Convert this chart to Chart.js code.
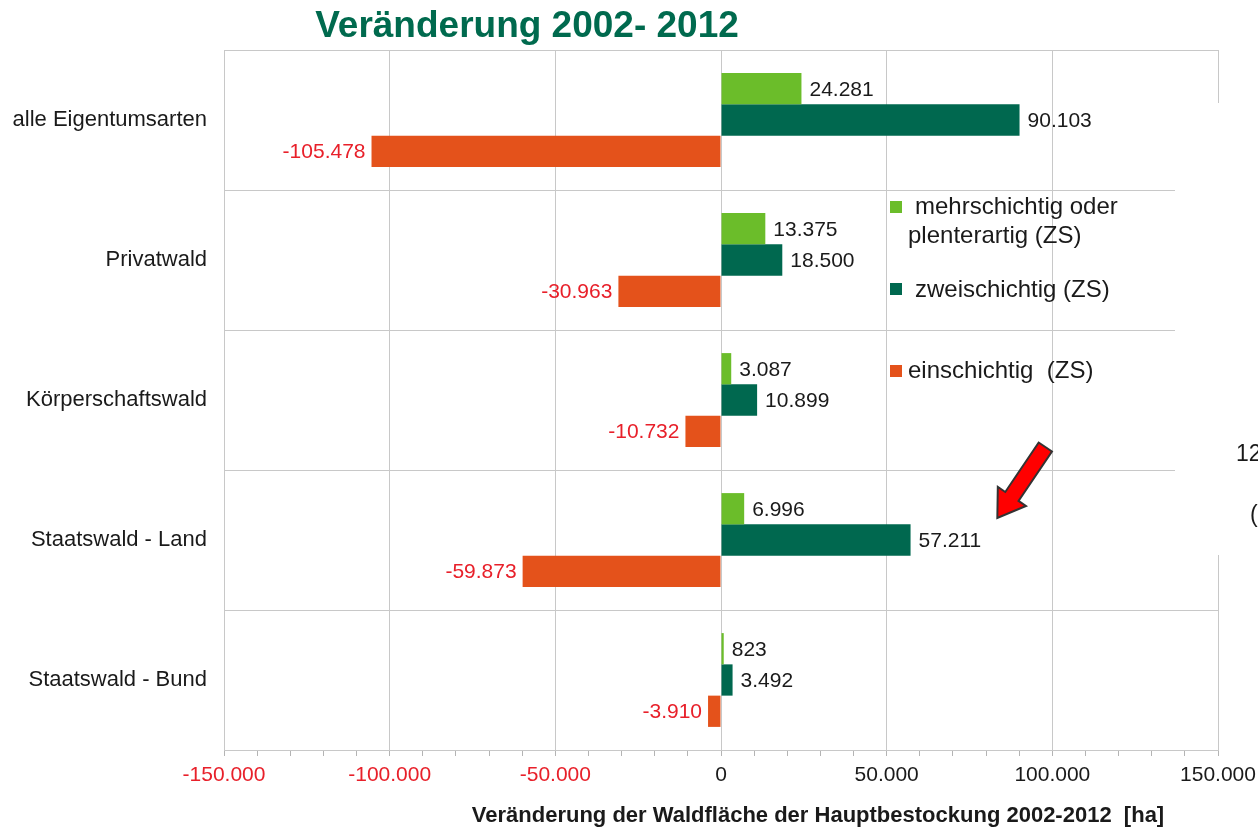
<!DOCTYPE html>
<html lang="de">
<head>
<meta charset="utf-8">
<title>Veränderung 2002- 2012</title>
<script src="https://cdn.jsdelivr.net/npm/chart.js@4.4.1/dist/chart.umd.min.js"></script>
<style>
  html, body { margin: 0; padding: 0; background: #ffffff; }
  #wrap { position: relative; width: 1258px; height: 827px; }
</style>
</head>
<body>
<div id="wrap"><canvas id="chart"></canvas></div>
<script>
const categories = [
  "alle Eigentumsarten",
  "Privatwald",
  "Körperschaftswald",
  "Staatswald - Land",
  "Staatswald - Bund",
];
const seriesLabels = [
  ["mehrschichtig oder", "plenterartig (ZS)"],
  ["zweischichtig (ZS)"],
  ["einschichtig  (ZS)"],
];
const mehrschichtig = [24281, 13375, 3087, 6996, 823];
const zweischichtig = [90103, 18500, 10899, 57211, 3492];
const einschichtig = [-105478, -30963, -10732, -59873, -3910];
const xTicks = [-150000, -100000, -50000, 0, 50000, 100000, 150000];

const colors = {
  light: "#6bbd2a",
  dark: "#00684f",
  orange: "#e4521b",
  title: "#006a4e",
  red: "#e8202a",
  text: "#1a1a1a",
  grid: "#c8c8c8",
};

const font = "'Liberation Sans', Arial, Helvetica, sans-serif";

// German thousands separator
const fmt = (v) => {
  const s = String(Math.abs(Math.round(v))).replace(/\B(?=(\d{3})+(?!\d))/g, ".");
  return (v < 0 ? "-" : "") + s;
};

const isMajor = (v) => xTicks.includes(v);

const labelsPlugin = {
  id: "valueLabels",
  afterDatasetsDraw(chart) {
    const { ctx } = chart;
    ctx.save();
    ctx.font = `21px ${font}`;
    ctx.textBaseline = "middle";
    chart.data.datasets.forEach((ds, i) => {
      chart.getDatasetMeta(i).data.forEach((bar, j) => {
        const v = ds.data[j];
        if (v < 0) {
          ctx.fillStyle = colors.red;
          ctx.textAlign = "right";
          ctx.fillText(fmt(v), bar.x - 6, bar.y + 1);
        } else {
          ctx.fillStyle = colors.text;
          ctx.textAlign = "left";
          ctx.fillText(fmt(v), bar.x + 8, bar.y + 1);
        }
      });
    });
    ctx.restore();
  },
};

const decorPlugin = {
  id: "decor",
  afterDraw(chart) {
    const { ctx } = chart;
    const x = chart.scales.x;
    const y = chart.scales.y;
    ctx.save();

    // title
    ctx.fillStyle = colors.title;
    ctx.font = `bold 37px ${font}`;
    ctx.textAlign = "center";
    ctx.textBaseline = "middle";
    ctx.fillText("Veränderung 2002- 2012", 527, 27);

    // axis title
    ctx.fillStyle = colors.text;
    ctx.font = `bold 22px ${font}`;
    ctx.fillText("Veränderung der Waldfläche der Hauptbestockung 2002-2012  [ha]", 818, 816);

    // legend
    const boxX = 890;
    const entries = [
      { top: 201, lines: [[915, 207], [908, 236]] },
      { top: 283, lines: [[915, 290]] },
      { top: 365, lines: [[908, 371]] },
    ];
    ctx.font = `24px ${font}`;
    ctx.textAlign = "left";
    chart.data.datasets.forEach((ds, i) => {
      const e = entries[i];
      ctx.fillStyle = ds.backgroundColor;
      ctx.fillRect(boxX, e.top, 12, 12);
      ctx.fillStyle = colors.text;
      seriesLabels[i].forEach((t, k) => {
        ctx.fillText(t, e.lines[k][0], e.lines[k][1]);
      });
    });

    // white cover on the right edge with text fragments
    ctx.fillStyle = "#ffffff";
    ctx.fillRect(1175, 103, 90, 452);
    ctx.fillStyle = colors.text;
    ctx.font = `23px ${font}`;
    ctx.fillText("12", 1236, 455);
    ctx.fillText("(", 1250, 516);

    // red arrow pointing at Staatswald - Land
    const tipX = x.getPixelForValue(83400);
    const tipY = y.getPixelForValue(3) - 22;
    const tailX = tipX + 48, tailY = tipY - 71;
    const len = Math.hypot(tailX - tipX, tailY - tipY);
    const ux = (tipX - tailX) / len, uy = (tipY - tailY) / len;
    const nx = -uy, ny = ux;
    const sw = 8, hw = 17, hl = 26;
    const bx = tipX - ux * hl, by = tipY - uy * hl;
    ctx.beginPath();
    ctx.moveTo(tailX + nx * sw, tailY + ny * sw);
    ctx.lineTo(bx + nx * sw, by + ny * sw);
    ctx.lineTo(bx + nx * hw, by + ny * hw);
    ctx.lineTo(tipX, tipY);
    ctx.lineTo(bx - nx * hw, by - ny * hw);
    ctx.lineTo(bx - nx * sw, by - ny * sw);
    ctx.lineTo(tailX - nx * sw, tailY - ny * sw);
    ctx.closePath();
    ctx.fillStyle = "#ff0000";
    ctx.fill();
    ctx.lineWidth = 2;
    ctx.strokeStyle = "#333333";
    ctx.lineJoin = "miter";
    ctx.stroke();

    ctx.restore();
  },
};

new Chart(document.getElementById("chart").getContext("2d"), {
  type: "bar",
  data: {
    labels: categories,
    datasets: [
      { label: seriesLabels[0].join(" "), data: mehrschichtig, backgroundColor: colors.light },
      { label: seriesLabels[1].join(" "), data: zweischichtig, backgroundColor: colors.dark },
      { label: seriesLabels[2].join(" "), data: einschichtig, backgroundColor: colors.orange },
    ],
  },
  options: {
    indexAxis: "y",
    responsive: true,
    maintainAspectRatio: false,
    animation: false,
    categoryPercentage: 0.67,
    barPercentage: 1.0,
    layout: { padding: { top: 50, right: 40, left: 0, bottom: 0 } },
    plugins: {
      legend: { display: false },
      title: { display: false },
      tooltip: { enabled: false },
    },
    scales: {
      x: {
        min: -150000,
        max: 150000,
        afterFit: (scale) => {
          scale.height = 77;
          scale.paddingLeft = 0;
          scale.paddingRight = 0;
        },
        border: { display: true, color: colors.grid },
        grid: {
          color: (c) => (c.tick && isMajor(c.tick.value) ? colors.grid : "rgba(0,0,0,0)"),
          tickColor: "#b4b4b4",
          tickLength: 6,
          drawTicks: true,
        },
        ticks: {
          stepSize: 10000,
          autoSkip: false,
          maxRotation: 0,
          padding: 7,
          font: { family: font, size: 21 },
          color: (c) => (c.tick && c.tick.value < 0 ? colors.red : colors.text),
          callback: (v) => (isMajor(v) ? fmt(v) : ""),
        },
      },
      y: {
        afterFit: (scale) => { scale.width = 224; },
        border: { display: false },
        grid: { color: colors.grid, drawTicks: false },
        ticks: {
          padding: 17,
          font: { family: font, size: 22 },
          color: colors.text,
        },
      },
    },
  },
  plugins: [labelsPlugin, decorPlugin],
});
</script>
</body>
</html>
